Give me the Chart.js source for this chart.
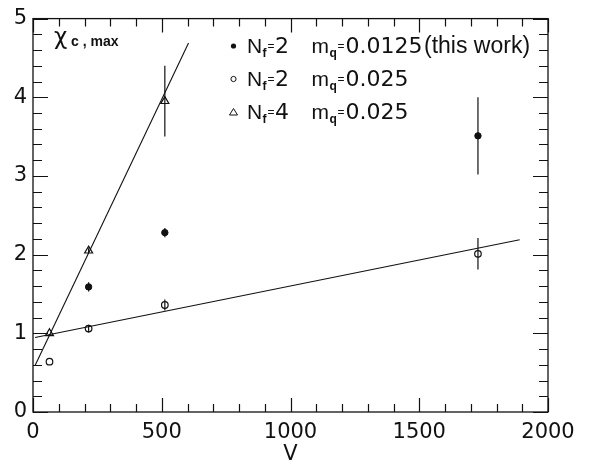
<!DOCTYPE html>
<html>
<head>
<meta charset="utf-8">
<script src="https://cdn.jsdelivr.net/npm/chart.js@4"></script>
<style>
  html, body { margin: 0; padding: 0; background: #fff; }
  #wrap { width: 591px; height: 469px; }
</style>
</head>
<body>
<div id="wrap"><canvas id="c" width="591" height="469"></canvas></div>
<script>
// ---- data ----
const volumeNf2m0125 = [216, 512, 1728];
const chiNf2m0125 = [1.59, 2.28, 3.51];
const errNf2m0125 = [0.06, 0.06, 0.49];

const volumeNf2m025 = [64, 216, 512, 1728];
const chiNf2m025 = [0.64, 1.06, 1.36, 2.01];
const errNf2m025 = [0, 0.05, 0.07, 0.20];

const volumeNf4 = [64, 216, 512];
const chiNf4 = [1.00, 2.05, 3.95];
const errNf4 = [0, 0.03, 0.45];

const fitNf4V = [8, 604];
const fitNf4Chi = [0.59, 4.69];
const fitNf2V = [8, 1890];
const fitNf2Chi = [0.947, 2.19];

const xMajorTicks = [0, 500, 1000, 1500, 2000];
const yMajorTicks = [0, 1, 2, 3, 4, 5];
const xMinorStep = 100;
const yMinorStep = 0.2;

const legendRows = [
  { marker: 'filled', nf: '2', mq: '0.0125', note: '(this work)' },
  { marker: 'open', nf: '2', mq: '0.025', note: '' },
  { marker: 'triangle', nf: '4', mq: '0.025', note: '' }
];

function pts(xs, ys) { return xs.map((x, i) => ({ x: x, y: ys[i] })); }

const errorBarPlugin = {
  id: 'errbars',
  afterDatasetsDraw(chart) {
    const ctx = chart.ctx, xs = chart.scales.x, ys = chart.scales.y;
    const sets = [[volumeNf2m0125, chiNf2m0125, errNf2m0125],
                  [volumeNf2m025, chiNf2m025, errNf2m025],
                  [volumeNf4, chiNf4, errNf4]];
    ctx.save();
    ctx.strokeStyle = '#111';
    ctx.lineWidth = 1.2;
    sets.forEach(([vx, vy, ve]) => {
      vx.forEach((v, i) => {
        if (!ve[i]) return;
        const px = xs.getPixelForValue(v);
        ctx.beginPath();
        ctx.moveTo(px, ys.getPixelForValue(vy[i] + ve[i]));
        ctx.lineTo(px, ys.getPixelForValue(vy[i] - ve[i]));
        ctx.stroke();
      });
    });
    ctx.restore();
  }
};

const framePlugin = {
  id: 'frame',
  afterDraw(chart) {
    const ctx = chart.ctx, xs = chart.scales.x, ys = chart.scales.y;
    const a = chart.chartArea;
    ctx.save();
    ctx.strokeStyle = '#111';
    ctx.lineWidth = 1.3;
    ctx.strokeRect(a.left, a.top, a.right - a.left, a.bottom - a.top);
    ctx.lineWidth = 1.2;
    ctx.beginPath();
    for (let v = xs.min; v <= xs.max + 1e-9; v += xMinorStep) {
      const major = xMajorTicks.includes(Math.round(v));
      const L = major ? 14 : 8;
      const px = Math.round(xs.getPixelForValue(v)) + 0.5;
      ctx.moveTo(px, a.bottom); ctx.lineTo(px, a.bottom - L);
      ctx.moveTo(px, a.top); ctx.lineTo(px, a.top + L);
    }
    for (let v = ys.min; v <= ys.max + 1e-9; v += yMinorStep) {
      const major = yMajorTicks.includes(Math.round(v * 10) / 10);
      const L = major ? 15 : 9;
      const py = Math.round(ys.getPixelForValue(v)) + 0.5;
      ctx.moveTo(a.left, py); ctx.lineTo(a.left + L, py);
      ctx.moveTo(a.right, py); ctx.lineTo(a.right - L, py);
    }
    ctx.stroke();

    // y-axis label inside plot
    ctx.fillStyle = '#111';
    ctx.textBaseline = 'alphabetic';
    ctx.font = '23px "DejaVu Sans"';
    ctx.fillText('\u03C7', 54, 44);
    ctx.font = 'bold 14px "Liberation Sans"';
    ctx.fillText('c , max', 71, 46);

    // legend
    const baseY = [53, 86, 119];
    legendRows.forEach((r, i) => {
      const by = baseY[i];
      const my = by - 7;
      ctx.beginPath();
      ctx.lineWidth = 1;
      if (r.marker === 'filled') {
        ctx.arc(233.5, my, 2.6, 0, Math.PI * 2); ctx.fill();
      } else if (r.marker === 'open') {
        ctx.arc(233.5, my, 2.6, 0, Math.PI * 2); ctx.stroke();
      } else {
        ctx.moveTo(233.5, my - 3.5); ctx.lineTo(237.5, my + 3); ctx.lineTo(229.5, my + 3); ctx.closePath(); ctx.stroke();
      }
      ctx.font = '21px "Liberation Sans"';
      ctx.fillText('N', 247, by);
      ctx.font = 'bold 12px "Liberation Sans"';
      ctx.fillText('f', 262.5, by + 4);
      ctx.font = '12px "Liberation Sans"';
      ctx.fillText('=', 267.5, by - 3);
      ctx.font = '22px "DejaVu Sans"';
      ctx.fillText(r.nf, 275, by);
      ctx.font = '21px "Liberation Sans"';
      ctx.fillText('m', 311.5, by);
      ctx.font = 'bold 12px "Liberation Sans"';
      ctx.fillText('q', 329.5, by + 4);
      ctx.font = '12px "Liberation Sans"';
      ctx.fillText('=', 337.5, by - 3);
      ctx.font = '22px "DejaVu Sans"';
      ctx.fillText(r.mq, 345.5, by);
      if (r.note) {
        ctx.font = '23px "Liberation Sans"';
        ctx.fillText(r.note, 424, by);
      }
    });
    ctx.restore();
  }
};

new Chart(document.getElementById('c'), {
  type: 'scatter',
  data: {
    datasets: [
      { label: 'fitNf4', data: pts(fitNf4V, fitNf4Chi), showLine: true, pointRadius: 0,
        borderColor: '#111', borderWidth: 1.1, fill: false },
      { label: 'fitNf2', data: pts(fitNf2V, fitNf2Chi), showLine: true, pointRadius: 0,
        borderColor: '#111', borderWidth: 1.1, fill: false },
      { label: 'Nf=2 mq=0.0125', data: pts(volumeNf2m0125, chiNf2m0125), pointStyle: 'circle',
        pointRadius: 3.2, backgroundColor: '#111', borderColor: '#111', borderWidth: 1 },
      { label: 'Nf=2 mq=0.025', data: pts(volumeNf2m025, chiNf2m025), pointStyle: 'circle',
        pointRadius: 3.3, backgroundColor: '#fff', borderColor: '#111', borderWidth: 1.2 },
      { label: 'Nf=4 mq=0.025', data: pts(volumeNf4, chiNf4), pointStyle: 'triangle',
        pointRadius: 4.6, backgroundColor: '#fff', borderColor: '#111', borderWidth: 1.2 }
    ]
  },
  options: {
    responsive: false,
    animation: false,
    layout: { padding: { top: 9, right: 43, left: 0, bottom: 0 } },
    plugins: { legend: { display: false }, tooltip: { enabled: false } },
    scales: {
      x: {
        type: 'linear', min: 0, max: 2000,
        afterFit(s) { s.height = 57; },
        grid: { display: false, drawTicks: false },
        border: { display: false },
        ticks: { stepSize: 500, padding: 8, color: '#111',
                 font: { family: 'DejaVu Sans', size: 21 },
                 callback: v => xMajorTicks.includes(v) ? String(v) : '' },
        title: { display: true, text: 'V', color: '#111', padding: { top: 0, bottom: 2 },
                 font: { family: 'DejaVu Sans', size: 21 } }
      },
      y: {
        type: 'linear', min: 0, max: 5,
        afterFit(s) { s.width = 33; },
        grid: { display: false, drawTicks: false },
        border: { display: false },
        ticks: { stepSize: 1, padding: 6, color: '#111',
                 font: { family: 'DejaVu Sans', size: 21 },
                 callback: v => yMajorTicks.includes(v) ? String(v) : '' }
      }
    }
  },
  plugins: [errorBarPlugin, framePlugin]
});
</script>
</body>
</html>
